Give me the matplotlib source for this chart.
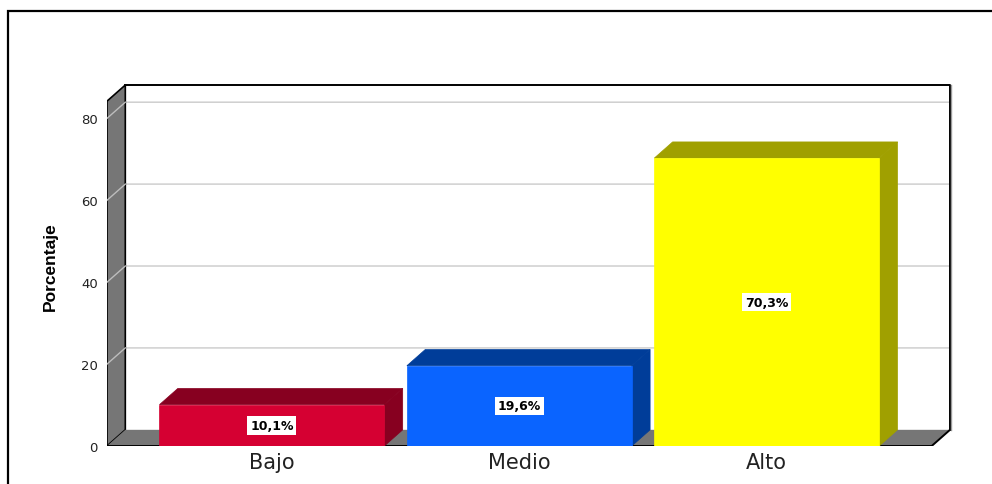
import numpy as np
import matplotlib.pyplot as plt
from matplotlib.patches import Polygon, Rectangle

categorias = ['Bajo', 'Medio', 'Alto']
porcentajes = [10.1, 19.6, 70.3]
etiquetas = ['10,1%', '19,6%', '70,3%']
yticks = [0, 20, 40, 60, 80]

col_frente = ['#D50032', '#0A64FF', '#FFFF00']
col_sombra = ['#870020', '#003D99', '#A0A000']
gris = '#767676'

# geometria de la caja 3D (unidades de datos)
x0, x1 = -2 / 3, 2 + 2 / 3
ymax = 84.2
dx, dy = 0.074, 3.95
ancho = 0.909

plt.rcParams['font.family'] = ['DejaVu Sans']

fig = plt.figure(figsize=(9.92, 4.85), dpi=100)
W, H = 992, 485
ax = fig.add_axes([107 / W, (H - 447) / H, 843 / W, 361 / H])
ax.set_xlim(x0, x1 + dx)
ax.set_ylim(0, ymax + dy)
for s in ax.spines.values():
    s.set_visible(False)

# pared de fondo
ax.add_patch(Rectangle((x0 + dx, dy), x1 - x0, ymax, facecolor='white', edgecolor='none', zorder=0))
for t in yticks[1:]:
    ax.plot([x0, x0 + dx, x1 + dx], [t, t + dy, t + dy], color='#CFCFCF', lw=1.1, zorder=1)

# pared izquierda y piso
ax.add_patch(Polygon([(x0, 0), (x0, ymax), (x0 + dx, ymax + dy), (x0 + dx, dy)],
                     closed=True, facecolor=gris, edgecolor='black', lw=1.2, zorder=2))
for t in yticks[1:]:
    ax.plot([x0, x0 + dx], [t, t + dy], color='#BDBDBD', lw=1.0, zorder=2.5)
ax.add_patch(Polygon([(x0, 0), (x1, 0), (x1 + dx, dy), (x0 + dx, dy)],
                     closed=True, facecolor=gris, edgecolor='none', zorder=2))
ax.plot([x0, x1, x1 + dx], [0, 0, dy], color='black', lw=1.4, zorder=3)
ax.plot([x0 + dx, x1 + dx, x1 + dx], [ymax + dy, ymax + dy, dy], color='black', lw=1.4,
        zorder=3, clip_on=False)
ax.plot([x1 + dx + 0.006] * 2, [dy, ymax + dy], color='#9A9A9A', lw=1.0, zorder=3, clip_on=False)

# barras
for i, v in enumerate(porcentajes):
    a, b = i - ancho / 2, i + ancho / 2
    ax.add_patch(Polygon([(b, 0), (b + dx, dy), (b + dx, v + dy), (b, v)], closed=True,
                         facecolor=col_sombra[i], edgecolor=col_sombra[i], lw=0.5, zorder=4))
    ax.add_patch(Polygon([(a, v), (b, v), (b + dx, v + dy), (a + dx, v + dy)], closed=True,
                         facecolor=col_sombra[i], edgecolor=col_sombra[i], lw=0.5, zorder=4))
    ax.add_patch(Rectangle((a, 0), ancho, v, facecolor=col_frente[i], edgecolor=col_frente[i],
                           lw=0.5, zorder=5))
    ax.text(i, v / 2, etiquetas[i], ha='center', va='center', fontsize=9, fontweight='bold',
            zorder=6, bbox=dict(boxstyle='square,pad=0.22', facecolor='white', edgecolor='none'))

ax.set_xticks(range(len(categorias)))
ax.set_xticklabels(categorias, fontsize=15, color='#222222')
ax.set_yticks(yticks)
ax.set_yticklabels([str(t) for t in yticks], fontsize=9.5, color='#222222')
ax.tick_params(length=0)
ax.tick_params(axis='x', pad=4)
ax.tick_params(axis='y', pad=6.5)
ax.set_ylabel('Porcentaje', fontsize=12.5, fontweight='bold',
              family=['Liberation Sans Narrow', 'Liberation Sans'], labelpad=17)

# marco exterior
fig.add_artist(Rectangle((8 / W, -0.1), 1.2, (H - 12) / H + 0.1, transform=fig.transFigure,
                         facecolor='none', edgecolor='black', lw=1.6))

fig.savefig('out.png', dpi=100)
